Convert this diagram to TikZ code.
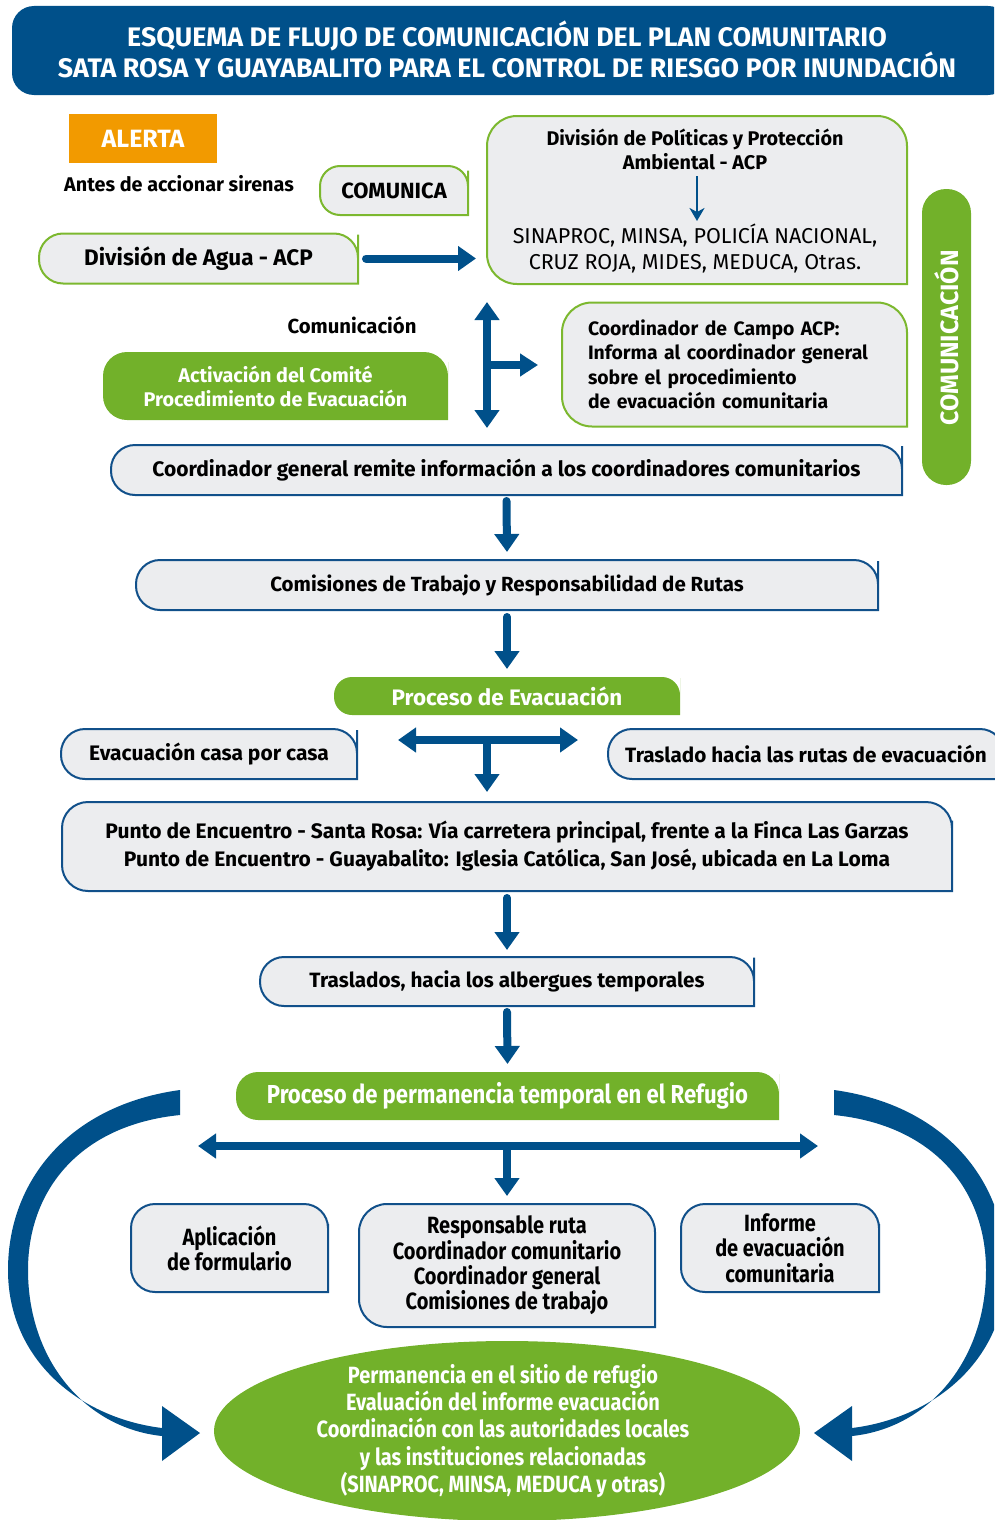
\documentclass[tikz,border=0pt]{standalone}
\usepackage{fontspec}
\setmainfont{Fira Sans}
\newfontfamily\cnd[FakeStretch=0.85]{Fira Sans}
\usetikzlibrary{arrows.meta,shapes.geometric}
\pgfdeclarelayer{background}
\pgfsetlayers{background,main}
\definecolor{dblue}{HTML}{00508A}
\definecolor{grn}{HTML}{72B12A}
\definecolor{orng}{HTML}{F29A00}
\definecolor{boxgray}{HTML}{ECEDEF}
\definecolor{gborder}{HTML}{7CB82F}
\definecolor{bborder}{HTML}{11508A}
\newcommand\fsz[2]{\fontsize{#1}{#2}\selectfont}
\newcommand\shp[3]{\begin{pgfonlayer}{background}\path[#1,rounded corners=#3] (#2.south) -- (#2.south west) -- (#2.north west) -- (#2.north east) -- (#2.east) [sharp corners] -- (#2.south east) -- cycle;\end{pgfonlayer}}
\begin{document}
\begin{tikzpicture}[x=1pt,y=-1pt,
  every node/.style={inner sep=0pt, outer sep=0pt},
  gbox/.style={fill=boxgray, draw=gborder, line width=2pt},
  bbox/.style={fill=boxgray, draw=bborder, line width=2pt},
  gfill/.style={fill=grn},
  barrow/.style={draw=dblue, line width=8pt, line cap=round, -{Triangle[width=24pt,length=18pt]}},
  dbarrow/.style={draw=dblue, line width=8pt, {Triangle[width=24pt,length=18pt]}-{Triangle[width=24pt,length=18pt]}},
  thinarrow/.style={draw=dblue, line width=2.5pt, -{Stealth[width=15pt,length=13pt,inset=4pt]}},
  bt/.style={font=\bfseries\fsz{19}{24}, align=center},
  wt/.style={text=white, font=\bfseries\fsz{19}{24}, align=center}
]
\useasboundingbox (0,0) rectangle (994,1520);
\clip (0,0) rectangle (994,1520);
% title
\node[fill=dblue, rounded corners=22pt, minimum width=998pt, minimum height=89pt] (banner) at (511,50.5) {};
\node[text=white, font=\bfseries\fsz{26.8}{30}, align=center] (title) at (507,49)
  {ESQUEMA DE FLUJO DE COMUNICACIÓN DEL PLAN COMUNITARIO\\SATA ROSA Y GUAYABALITO PARA EL CONTROL DE RIESGO POR INUNDACIÓN};
% alerta
\node[fill=orng, minimum width=148pt, minimum height=49pt, text=white, font=\bfseries\fsz{25}{28}] (alerta) at (143,138.5) {ALERTA};
\node[bt, font=\bfseries\fsz{19.8}{22}] (antes) at (179,184) {Antes de accionar sirenas};
\node[bt, font=\bfseries\fsz{22}{24}, minimum width=148pt, minimum height=49pt] (comunica) at (394,190.5) {COMUNICA};
\shp{gbox}{comunica}{20pt}
\node[bt, font=\bfseries\fsz{22.5}{24}, minimum width=319pt, minimum height=50pt] (agua) at (198.5,258.5) {División de Agua - ACP};
\shp{gbox}{agua}{24pt}
% politicas
\node[minimum width=420pt, minimum height=168pt] (pol) at (697,200) {};
\shp{gbox}{pol}{30pt}
\node[bt, font=\bfseries\fsz{19.8}{24}] (pol1) at (695,149) {División de Políticas y Protección\\Ambiental - ACP};
\node[bt, font=\fsz{21.5}{26}] (pol2) at (695,248) {SINAPROC, MINSA, POLICÍA NACIONAL,\\CRUZ ROJA, MIDES, MEDUCA, Otras.};
\coordinate (ta) at (697,176);
\coordinate (tb) at (697,221);
\draw[thinarrow] (ta) -- (tb);
\coordinate (aguaend) at (agua.east -| pol.west);
\draw[barrow] ([xshift=8pt]agua.east) -- ([xshift=-11pt]aguaend);
% comunicacion pill
\node[fill=grn, rounded corners=24pt, minimum width=49pt, minimum height=296pt] (pill) at (946.5,337) {};
\node[rotate=90, text=white, font=\bfseries\fsz{25}{28}] (pilltext) at (947,338) {COMUNICACIÓN};
% comunicacion label & activacion
\node[bt, font=\bfseries\fsz{20.3}{22}] (comlbl) at (352,325) {Comunicación};
\node[wt, font=\bfseries\fsz{19.8}{24}, minimum width=345pt, minimum height=68pt] (activ) at (275.5,386) {Activación del Comité\\Procedimiento de Evacuación};
\shp{gfill}{activ}{24pt}
% campo
\node[font=\bfseries\fsz{19.4}{24.5}, align=left, text width=293pt, inner xsep=26pt, minimum width=345pt, minimum height=124pt] (campo) at (734.5,364.5)
  {Coordinador de Campo ACP:\\Informa al coordinador general\\sobre el procedimiento\\de evacuación comunitaria};
\shp{gbox}{campo}{30pt}
\coordinate (vtop) at (487,302);
\coordinate (vbot) at (487,428);
\coordinate (vmid) at (487,365);
\draw[dbarrow] (vtop) -- (vbot);
\draw[draw=dblue, line width=8pt, -{Triangle[width=22pt,length=18pt]}] (vmid) -- ([xshift=-24pt]vmid -| campo.west);
% coordinador general
\node[bt, font=\bfseries\fsz{21}{24}, minimum width=791pt, minimum height=50pt] (cg) at (506.5,470) {Coordinador general remite información a los coordinadores comunitarios};
\shp{bbox}{cg}{24pt}
\node[bt, font=\bfseries\fsz{20.5}{24}, minimum width=742pt, minimum height=50pt] (comis) at (507,585) {Comisiones de Trabajo y Responsabilidad de Rutas};
\shp{bbox}{comis}{24pt}
\draw[barrow] ([yshift=-6pt]cg.south) -- ([yshift=8pt]comis.north);
\node[wt, font=\bfseries\fsz{22.4}{24}, minimum width=346pt, minimum height=38pt] (proc) at (507,696) {Proceso de Evacuación};
\shp{gfill}{proc}{18pt}
\draw[barrow] ([yshift=-7pt]comis.south) -- ([yshift=8pt]proc.north);
\node[bt, font=\bfseries\fsz{21}{24}, minimum width=296pt, minimum height=50pt] (casa) at (209,754) {Evacuación casa por casa};
\shp{bbox}{casa}{24pt}
\node[bt, font=\bfseries\fsz{20.7}{24}, minimum width=396pt, minimum height=50pt] (trasl) at (806,754) {Traslado hacia las rutas de evacuación};
\shp{bbox}{trasl}{24pt}
\node[bt, font=\bfseries\fsz{21}{28}, minimum width=890pt, minimum height=89pt] (punto) at (507,846.5)
  {Punto de Encuentro - Santa Rosa: Vía carretera principal, frente a la Finca Las Garzas\\Punto de Encuentro - Guayabalito: Iglesia Católica, San José, ubicada en La Loma};
\shp{bbox}{punto}{26pt}
\coordinate (h1) at (398,740);
\coordinate (h2) at (578,740);
\coordinate (hs) at (487,740);
\draw[dbarrow] (h1) -- (h2);
\draw[draw=dblue, line width=8pt, -{Triangle[width=24pt,length=18pt]}] (hs) -- ([yshift=10pt]hs |- punto.north);
\node[bt, font=\bfseries\fsz{20.7}{24}, minimum width=494pt, minimum height=49pt] (trasls) at (507,981.5) {Traslados, hacia los albergues temporales};
\shp{bbox}{trasls}{24pt}
\draw[barrow] ([yshift=-7pt]punto.south) -- ([yshift=7pt]trasls.north);
\node[wt, font=\cnd\bfseries\fsz{26}{28}, minimum width=543pt, minimum height=48pt] (perm) at (507.5,1096) {Proceso de permanencia temporal en el Refugio};
\shp{gfill}{perm}{22pt}
\draw[barrow] ([yshift=-6pt]trasls.south) -- ([yshift=8pt]perm.north);
\coordinate (k1) at (198,1146);
\coordinate (k2) at (818,1146);
\coordinate (ks) at (507,1146);
\draw[dbarrow] (k1) -- (k2);
% bottom boxes
\node[bt, font=\cnd\bfseries\fsz{23.5}{25}, minimum width=197pt, minimum height=88pt] (aplic) at (229.5,1248) {Aplicación\\de formulario};
\shp{bbox}{aplic}{24pt}
\node[bt, font=\cnd\bfseries\fsz{23.5}{25.3}, minimum width=296pt, minimum height=123pt] (resp) at (507,1265.5) {Responsable ruta\\Coordinador comunitario\\Coordinador general\\Comisiones de trabajo};
\shp{bbox}{resp}{28pt}
\node[bt, font=\cnd\bfseries\fsz{23.5}{25.5}, minimum width=198pt, minimum height=88pt] (inf) at (780,1248) {Informe\\de evacuación\\comunitaria};
\shp{bbox}{inf}{24pt}
\draw[draw=dblue, line width=8pt, -{Triangle[width=24pt,length=18pt]}] (ks) -- ([yshift=8pt]ks |- resp.north);
% ellipse
\node[ellipse, fill=grn, minimum width=586pt, minimum height=180pt] (ell) at (507,1431) {};
\node[wt, font=\cnd\bfseries\fsz{23.5}{27.2}] (elltext) at (503,1431) {Permanencia en el sitio de refugio\\Evaluación del informe evacuación\\Coordinación con las autoridades locales\\y las instituciones relacionadas\\(SINAPROC, MINSA, MEDUCA y otras)};
% side curved arrows
\fill[dblue] (180,1090) .. controls (70,1105) and (8,1180) .. (8,1270) .. controls (8,1360) and (80,1418) .. (162,1428) -- (162,1436) .. controls (85,1428) and (28,1360) .. (28,1270) .. controls (28,1190) and (80,1125) .. (180,1115) -- cycle;
\fill[dblue] (162,1406) -- (200,1433) -- (162,1461) -- cycle;
\fill[dblue] (834,1090) .. controls (944,1105) and (1006,1180) .. (1006,1270) .. controls (1006,1360) and (934,1418) .. (852,1428) -- (852,1436) .. controls (929,1428) and (986,1360) .. (986,1270) .. controls (986,1190) and (934,1125) .. (834,1115) -- cycle;
\fill[dblue] (852,1406) -- (814,1433) -- (852,1461) -- cycle;
\end{tikzpicture}
\end{document}
